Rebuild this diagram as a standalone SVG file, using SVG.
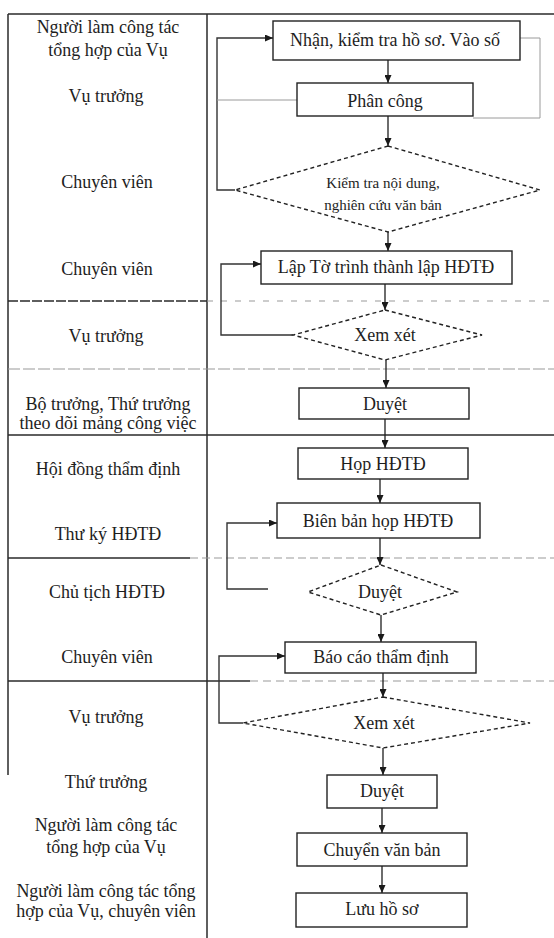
<svg xmlns="http://www.w3.org/2000/svg" width="554" height="938" viewBox="0 0 554 938">
  <defs>
    <marker id="arrow" markerWidth="8" markerHeight="7" refX="8" refY="3.5" orient="auto" markerUnits="userSpaceOnUse">
      <path d="M0,0 L8,3.5 L0,7 z" fill="#1a1a1a"/>
    </marker>
    <style>
      text { font-family: "Liberation Serif", "Times New Roman", serif; fill: #1e1e1e; }
      .lbl { font-size: 18px; text-anchor: middle; }
      .txt { font-size: 18px; text-anchor: middle; }
      .small { font-size: 15px; text-anchor: middle; }
      .box { fill: #ffffff; stroke: #222222; stroke-width: 1.4; }
      .dia { fill: #ffffff; stroke: #222222; stroke-width: 1.4; stroke-dasharray: 4 3; }
      .grid { stroke: #2a2a2a; stroke-width: 1.5; fill: none; }
      .gridlight { stroke: #9a9a9a; stroke-width: 1.2; fill: none; }
      .flow { stroke: #1e1e1e; stroke-width: 1.3; fill: none; }
      .loop { stroke: #333333; stroke-width: 1.4; fill: none; }
      .faint { stroke: #9a9a9a; stroke-width: 1; fill: none; }
    </style>
  </defs>
  <rect width="554" height="938" fill="#ffffff"/>

  <!-- table frame: role column on the left, steps on the right -->
  <g id="table">
    <line class="grid" x1="8" y1="14" x2="554" y2="14"/>
    <line class="grid" x1="8" y1="14" x2="8" y2="775"/>
    <line class="grid" x1="207" y1="14" x2="207" y2="938"/>
    <line class="grid" x1="8" y1="301" x2="207" y2="301" stroke-dasharray="10 2"/>
    <line class="gridlight" x1="207" y1="301" x2="554" y2="301" stroke-dasharray="6 8"/>
    <line class="gridlight" x1="8" y1="369" x2="554" y2="369" stroke-dasharray="12 3"/>
    <line class="grid" x1="8" y1="435" x2="554" y2="435"/>
    <line class="grid" x1="8" y1="558" x2="190" y2="558"/>
    <line class="gridlight" x1="190" y1="558" x2="554" y2="558" stroke-dasharray="8 4"/>
    <line class="grid" x1="8" y1="681" x2="250" y2="681"/>
    <line class="gridlight" x1="250" y1="681" x2="554" y2="681" stroke-dasharray="8 5"/>
  </g>

  <!-- role labels -->
  <g id="roles">
    <text class="lbl" x="108" y="33">Người làm công tác</text>
    <text class="lbl" x="108" y="56">tổng hợp của Vụ</text>
    <text class="lbl" x="106" y="102">Vụ trưởng</text>
    <text class="lbl" x="107" y="188">Chuyên viên</text>
    <text class="lbl" x="107" y="275">Chuyên viên</text>
    <text class="lbl" x="106" y="342">Vụ trưởng</text>
    <text class="lbl" x="108" y="410">Bộ trưởng, Thứ trưởng</text>
    <text class="lbl" x="108" y="429">theo dõi mảng công việc</text>
    <text class="lbl" x="108" y="475">Hội đồng thẩm định</text>
    <text class="lbl" x="108" y="540">Thư ký HĐTĐ</text>
    <text class="lbl" x="107" y="598">Chủ tịch HĐTĐ</text>
    <text class="lbl" x="107" y="663">Chuyên viên</text>
    <text class="lbl" x="106" y="723">Vụ trưởng</text>
    <text class="lbl" x="106" y="788">Thứ trưởng</text>
    <text class="lbl" x="106" y="831">Người làm công tác</text>
    <text class="lbl" x="106" y="853">tổng hợp của Vụ</text>
    <text class="lbl" x="106" y="897">Người làm công tác tổng</text>
    <text class="lbl" x="106" y="917">hợp của Vụ, chuyên viên</text>
  </g>

  <!-- connectors -->
  <g id="connectors">
    <line class="flow" x1="388" y1="60" x2="388" y2="83" marker-end="url(#arrow)"/>
    <line class="flow" x1="388" y1="116" x2="388" y2="146" marker-end="url(#arrow)"/>
    <line class="flow" x1="388" y1="232" x2="388" y2="251" marker-end="url(#arrow)"/>
    <line class="flow" x1="385" y1="284" x2="385" y2="310" marker-end="url(#arrow)"/>
    <line class="flow" x1="386" y1="360" x2="386" y2="388" marker-end="url(#arrow)"/>
    <line class="flow" x1="385" y1="419" x2="385" y2="448" marker-end="url(#arrow)"/>
    <line class="flow" x1="380" y1="479" x2="380" y2="503" marker-end="url(#arrow)"/>
    <line class="flow" x1="380" y1="538" x2="380" y2="565" marker-end="url(#arrow)"/>
    <line class="flow" x1="381" y1="615" x2="381" y2="642" marker-end="url(#arrow)"/>
    <line class="flow" x1="383" y1="673" x2="383" y2="697" marker-end="url(#arrow)"/>
    <line class="flow" x1="383" y1="748" x2="383" y2="775" marker-end="url(#arrow)"/>
    <line class="flow" x1="382" y1="808" x2="382" y2="833" marker-end="url(#arrow)"/>
    <line class="flow" x1="382" y1="866" x2="382" y2="893" marker-end="url(#arrow)"/>

    <!-- return loops -->
    <polyline class="loop" points="235,190 217,190 217,38 273,38" marker-end="url(#arrow)"/>
    <line class="faint" x1="297" y1="100" x2="217" y2="100"/>
    <polyline class="faint" points="520,38 540,38 540,118 473,118"/>
    <polyline class="loop" points="293,335 221,335 221,264 261,264" marker-end="url(#arrow)"/>
    <polyline class="loop" points="268,589 227,589 227,523 277,523" marker-end="url(#arrow)"/>
    <polyline class="loop" points="243,723 219,723 219,656 285,656" marker-end="url(#arrow)"/>
  </g>

  <!-- process steps -->
  <g id="n1">
    <rect class="box" x="273" y="21" width="247" height="39"/>
    <text class="txt" x="395" y="46">Nhận, kiểm tra hồ sơ. Vào số</text>
  </g>
  <g id="n2">
    <rect class="box" x="297" y="83" width="176" height="33"/>
    <text class="txt" x="385" y="107">Phân công</text>
  </g>
  <g id="n3">
    <polygon class="dia" points="388,146 540,190 388,232 235,190"/>
    <text class="small" x="383" y="188">Kiểm tra nội dung,</text>
    <text class="small" x="383" y="210">nghiên cứu văn bản</text>
  </g>
  <g id="n4">
    <rect class="box" x="261" y="251" width="251" height="33"/>
    <text class="txt" x="386" y="273">Lập Tờ trình thành lập HĐTĐ</text>
  </g>
  <g id="n5">
    <polygon class="dia" points="385,310 482,335 385,360 293,335"/>
    <text class="txt" x="385" y="341">Xem xét</text>
  </g>
  <g id="n6">
    <rect class="box" x="299" y="388" width="170" height="31"/>
    <text class="txt" x="385" y="410">Duyệt</text>
  </g>
  <g id="n7">
    <rect class="box" x="298" y="448" width="170" height="31"/>
    <text class="txt" x="383" y="470">Họp HĐTĐ</text>
  </g>
  <g id="n8">
    <rect class="box" x="277" y="503" width="203" height="35"/>
    <text class="txt" x="378" y="527">Biên bản họp HĐTĐ</text>
  </g>
  <g id="n9">
    <polygon class="dia" points="381,565 457,592 381,615 308,592"/>
    <text class="txt" x="380" y="598">Duyệt</text>
  </g>
  <g id="n10">
    <rect class="box" x="285" y="642" width="191" height="31"/>
    <text class="txt" x="381" y="663">Báo cáo thẩm định</text>
  </g>
  <g id="n11">
    <polygon class="dia" points="383,697 530,723 383,748 243,723"/>
    <text class="txt" x="384" y="729">Xem xét</text>
  </g>
  <g id="n12">
    <rect class="box" x="327" y="775" width="110" height="33"/>
    <text class="txt" x="382" y="797">Duyệt</text>
  </g>
  <g id="n13">
    <rect class="box" x="297" y="833" width="170" height="33"/>
    <text class="txt" x="382" y="856">Chuyển văn bản</text>
  </g>
  <g id="n14">
    <rect class="box" x="296" y="893" width="171" height="34"/>
    <text class="txt" x="382" y="915">Lưu hồ sơ</text>
  </g>
</svg>
